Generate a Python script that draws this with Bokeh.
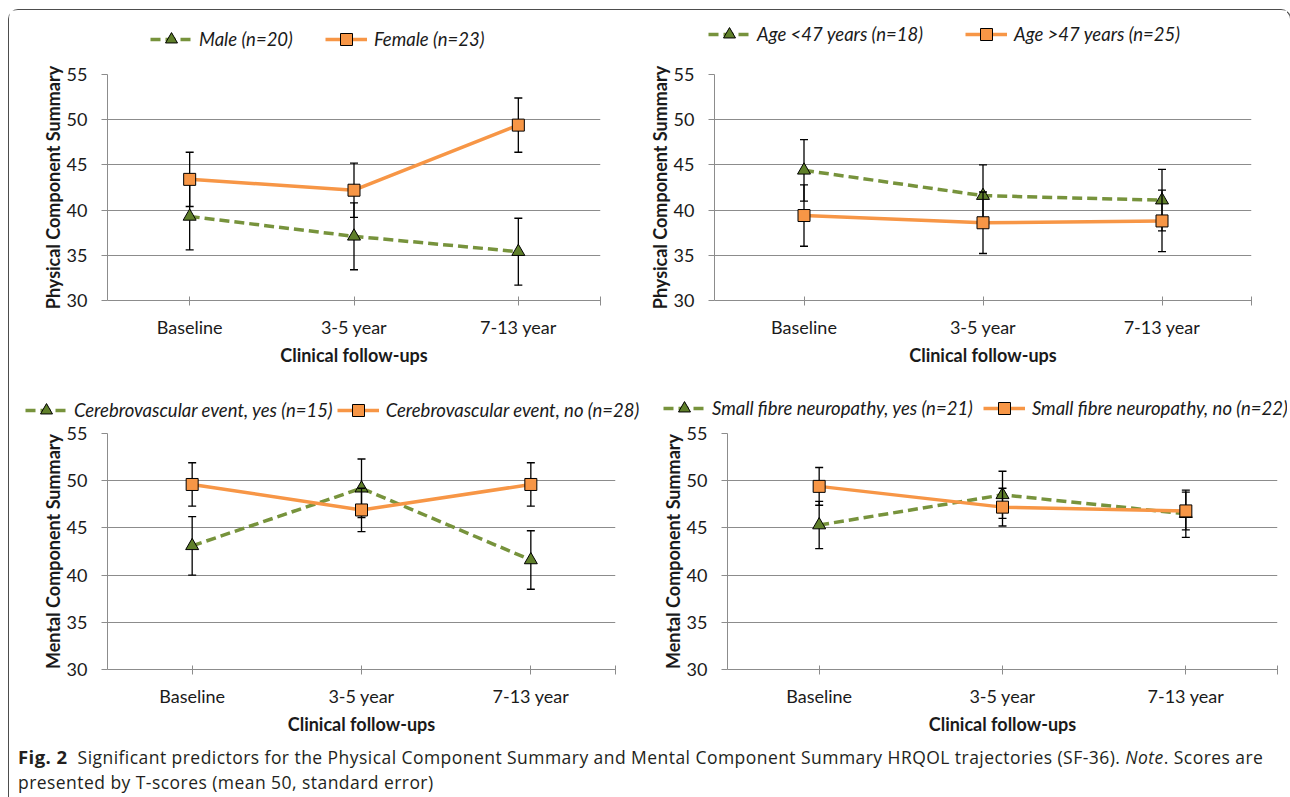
from bokeh.plotting import figure
from bokeh.models import Legend, LegendItem, FixedTicker, Range1d, Div, ColumnDataSource
from bokeh.layouts import row, column
from bokeh.embed import file_html
from bokeh.resources import INLINE

# ---------------- data ----------------
categories = ["Baseline", "3-5 year", "7-13 year"]
y_ticks = [30, 35, 40, 45, 50, 55]

male_label = "Male (n=20)"
male_mean = [39.3, 37.1, 35.4]
male_se = [3.7, 3.7, 3.7]
female_label = "Female (n=23)"
female_mean = [43.4, 42.2, 49.4]
female_se = [3.0, 3.0, 3.0]

young_label = "Age <47 years (n=18)"
young_mean = [44.4, 41.6, 41.1]
young_se = [3.4, 3.4, 3.4]
old_label = "Age >47 years (n=25)"
old_mean = [39.4, 38.6, 38.8]
old_se = [3.4, 3.4, 3.4]

cve_yes_label = "Cerebrovascular event, yes (n=15)"
cve_yes_mean = [43.1, 49.2, 41.6]
cve_yes_se = [3.1, 3.1, 3.1]
cve_no_label = "Cerebrovascular event, no (n=28)"
cve_no_mean = [49.6, 46.9, 49.6]
cve_no_se = [2.3, 2.3, 2.3]

sfn_yes_label = "Small fibre neuropathy, yes (n=21)"
sfn_yes_mean = [45.3, 48.5, 46.5]
sfn_yes_se = [2.5, 2.5, 2.5]
sfn_no_label = "Small fibre neuropathy, no (n=22)"
sfn_no_mean = [49.4, 47.2, 46.8]
sfn_no_se = [2.0, 2.0, 2.0]

x_title = "Clinical follow-ups"
pcs_title = "Physical Component Summary"
mcs_title = "Mental Component Summary"

# ---------------- style ----------------
FONT = "Lato"
GREEN_LINE = "#77933C"
GREEN_FILL = "#5F7F2A"
ORANGE = "#F79646"
GRID = "#8C8C8C"
TXT = "#1a1a1a"

A_STYLE = dict(color=GREEN_LINE, fill=GREEN_FILL, dash="10 5", marker="triangle", msize=13)
B_STYLE = dict(color=ORANGE, fill=ORANGE, dash="solid", marker="square", msize=12)


def add_series(p, mean, se, color, fill, dash, marker, msize, errorbars=True):
    xs = [i + 1 for i in range(len(mean))]
    src = ColumnDataSource(dict(
        x=xs, y=list(mean),
        lo=[m - s for m, s in zip(mean, se)],
        hi=[m + s for m, s in zip(mean, se)],
    ))
    if errorbars:
        p.segment(x0="x", y0="lo", x1="x", y1="hi", source=src, line_color="black", line_width=1.3)
        p.scatter(x="x", y="lo", source=src, marker="dash", size=8, line_color="black", line_width=1.3)
        p.scatter(x="x", y="hi", source=src, marker="dash", size=8, line_color="black", line_width=1.3)
    ln = p.line(x="x", y="y", source=src, line_color=color, line_width=3.5, line_dash=dash)
    sc = p.scatter(x="x", y="y", source=src, marker=marker, size=msize, fill_color=fill,
                   line_color="black", line_width=1)
    return ln, sc


def legend_strip(height, specs):
    """A strip across the whole row that carries the legends of its two panels.
    Its series lie outside the strip's own ranges, so only the legend swatches show."""
    lf = figure(width=1278, height=height, x_range=Range1d(0, 1), y_range=Range1d(0, 1),
                x_axis_type=None, y_axis_type=None,
                min_border_left=0, min_border_right=0, min_border_top=0, min_border_bottom=0,
                output_backend="svg", toolbar_location=None)
    lf.outline_line_color = None
    lf.xgrid.visible = False
    lf.ygrid.visible = False
    for (a_mean, a_se, a_label, b_mean, b_se, b_label, lx, ly, sp) in specs:
        la, sa = add_series(lf, a_mean, a_se, errorbars=False, **A_STYLE)
        lb, sb = add_series(lf, b_mean, b_se, errorbars=False, **B_STYLE)
        leg = Legend(items=[LegendItem(label=a_label, renderers=[la, sa]),
                            LegendItem(label=b_label, renderers=[lb, sb])],
                     orientation="horizontal", location=(lx, ly),
                     background_fill_alpha=0, border_line_color=None,
                     label_text_font=FONT, label_text_font_style="italic",
                     label_text_font_size="18.5px", label_text_color=TXT,
                     glyph_width=42, glyph_height=30, label_standoff=7,
                     spacing=sp, padding=0, margin=0)
        lf.add_layout(leg)
    return lf


def make_panel(a_mean, a_se, b_mean, b_se, ylabel, bl, fw, br, bt, fh, bb):
    p = figure(frame_width=fw, frame_height=fh,
               min_border_left=bl, min_border_right=br, min_border_top=bt, min_border_bottom=bb,
               x_range=Range1d(0.5, 3.5), y_range=Range1d(30, 55),
               output_backend="svg", toolbar_location=None)
    p.outline_line_color = None
    p.background_fill_color = "white"
    p.border_fill_color = "white"

    p.xgrid.visible = False
    p.ygrid.ticker = FixedTicker(ticks=y_ticks)
    p.ygrid.grid_line_color = GRID
    p.ygrid.grid_line_width = 1

    xa = p.xaxis[0]
    xa.ticker = FixedTicker(ticks=[1, 2, 3, 3.5])
    xa.major_label_overrides = {1: categories[0], 2: categories[1], 3: categories[2], 3.5: ""}
    xa.axis_line_color = GRID
    xa.major_tick_line_color = GRID
    xa.major_tick_in = 4
    xa.major_tick_out = 5
    xa.minor_tick_line_color = None
    xa.major_label_standoff = 10
    xa.major_label_text_font = FONT
    xa.major_label_text_font_size = "18px"
    xa.major_label_text_color = TXT
    xa.axis_label = x_title
    xa.axis_label_text_font = FONT
    xa.axis_label_text_font_style = "bold"
    xa.axis_label_text_font_size = "18px"
    xa.axis_label_text_color = TXT
    xa.axis_label_standoff = 3

    ya = p.yaxis[0]
    ya.ticker = FixedTicker(ticks=y_ticks)
    ya.axis_line_color = GRID
    ya.major_tick_line_color = GRID
    ya.major_tick_in = 0
    ya.major_tick_out = 6
    ya.minor_tick_line_color = None
    ya.major_label_standoff = 14
    ya.major_label_text_font = FONT
    ya.major_label_text_font_size = "18px"
    ya.major_label_text_color = TXT
    ya.axis_label = ylabel
    ya.axis_label_text_font = FONT
    ya.axis_label_text_font_style = "bold"
    ya.axis_label_text_font_size = "18px"
    ya.axis_label_text_color = TXT
    ya.axis_label_standoff = 0

    add_series(p, a_mean, a_se, **A_STYLE)
    add_series(p, b_mean, b_se, **B_STYLE)
    return p


# row 1: legend strip 45 + panels 335 ; row 2: legend strip 31 + panels 314
leg1 = legend_strip(45, [
    (male_mean, male_se, male_label, female_mean, female_se, female_label, 141, 1, 32),
    (young_mean, young_se, young_label, old_mean, old_se, old_label, 699, 6, 42),
])
p1 = make_panel(male_mean, male_se, female_mean, female_se, pcs_title, 98, 493, 45, 19, 226, 90)
p2 = make_panel(young_mean, young_se, old_mean, old_se, pcs_title, 66, 537, 39, 19, 226, 90)

leg2 = legend_strip(31, [
    (cve_yes_mean, cve_yes_se, cve_yes_label, cve_no_mean, cve_no_se, cve_no_label, 16, -4, 4),
    (sfn_yes_mean, sfn_yes_se, sfn_yes_label, sfn_no_mean, sfn_no_se, sfn_no_label, 654, -2, 10),
])
p3 = make_panel(cve_yes_mean, cve_yes_se, cve_no_mean, cve_no_se, mcs_title, 98, 508, 30, 12, 236, 66)
p4 = make_panel(sfn_yes_mean, sfn_yes_se, sfn_no_mean, sfn_no_se, mcs_title, 82, 550, 10, 12, 236, 66)

caption = Div(
    text=("<span style='font-weight:bold;font-size:18.5px'>Fig. 2</span>&nbsp; Significant predictors for the "
          "Physical Component Summary and Mental Component Summary HRQOL trajectories (SF-36). "
          "<i>Note</i>. Scores are<br>presented by T-scores (mean 50, standard error)"),
    width=1270, height=60, margin=(0, 0, 0, 0),
    styles={"font-family": "Open Sans", "font-size": "17.5px", "line-height": "25px", "color": "#231f20",
            "letter-spacing": "0.45px", "padding-left": "9px", "padding-top": "7px",
            "white-space": "nowrap"},
)

layout = column(leg1, row(p1, p2), leg2, row(p3, p4), caption, margin=(9, 0, 0, 8),
                styles={"border": "1px solid #4d4d4d", "border-bottom": "none",
                        "border-radius": "10px 10px 0 0"})

open("out.html", "w").write(file_html(layout, INLINE))
